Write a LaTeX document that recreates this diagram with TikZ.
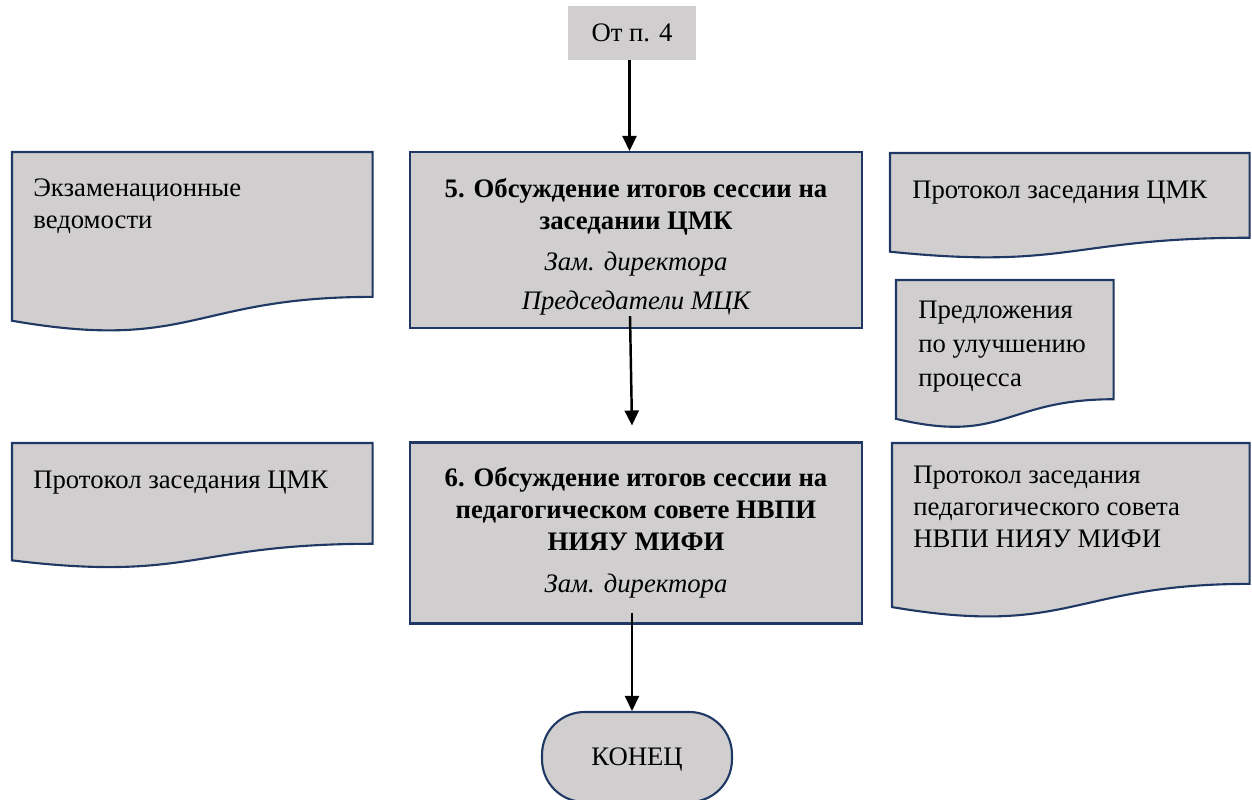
\documentclass[tikz,border=0pt]{standalone}
\usepackage{fontspec}
\setmainfont{Liberation Serif}
\usetikzlibrary{arrows.meta,positioning,calc,backgrounds}

\definecolor{boxfill}{HTML}{D0CECE}
\definecolor{boxline}{HTML}{1F3864}

\begin{document}
\begin{tikzpicture}[x=0.02cm, y=-0.02cm, font=\fontsize{15.2}{18.2}\selectfont,
  stepbox/.style={draw=boxline, fill=boxfill, line width=1.2pt, align=center, inner sep=0pt},
  doc/.style={anchor=north west, inner sep=0pt},
  doctxt/.style={anchor=north west, align=left, inner sep=0pt},
  flow/.style={line width=1.4pt, -{Triangle[length=0.3cm, width=0.28cm]}}]
\useasboundingbox (0,0) rectangle (1252,800);

% process steps
\node[fill=boxfill, minimum width=2.58cm, minimum height=1.08cm] (from4) at (632,33) {От п. 4};
\node[stepbox, minimum width=9.04cm, minimum height=3.52cm] (step5) at (636,240)
  {\rule{0pt}{19pt}{\bfseries 5. Обсуждение итогов сессии на}\\{\bfseries заседании ЦМК}\\[5pt]
   {\itshape Зам. директора}\\[4pt]{\itshape Председатели МЦК}};
\node[stepbox, minimum width=9.04cm, minimum height=3.62cm] (step6) at (636,533)
  {{\bfseries 6. Обсуждение итогов сессии на}\\{\bfseries педагогическом совете НВПИ}\\{\bfseries НИЯУ МИФИ}\\[6pt]
   {\itshape Зам. директора}};
\node[stepbox, rounded corners=0.85cm, minimum width=3.8cm, minimum height=1.8cm,
  text height=10pt, text depth=0pt] (finish) at (637,757) {КОНЕЦ};

% documents
\node[doc, minimum width=7.2cm, minimum height=3.6cm] (ved) at (12,152) {};
\node[doctxt] (vedT) at ([shift={(21,26)}]ved.north west) {Экзаменационные\\ведомости};
\node[doc, minimum width=7.2cm, minimum height=2.5cm] (protL) at (12,443) {};
\node[doctxt] (protLT) at ([shift={(21,28)}]protL.north west) {Протокол заседания ЦМК};
\node[doc, minimum width=7.18cm, minimum height=2.1cm] (protR) at (890,153) {};
\node[doctxt] (protRT) at ([shift={(22,28)}]protR.north west) {Протокол заседания ЦМК};
\node[doc, minimum width=4.34cm, minimum height=2.96cm] (pred) at (896,280) {};
\node[doctxt, font=\fontsize{15.2}{19.2}\selectfont] (predT) at ([shift={(22,21)}]pred.north west) {Предложения\\по улучшению\\процесса};
\node[doc, minimum width=7.14cm, minimum height=3.5cm] (protPS) at (892,443) {};
\node[doctxt] (protPST) at ([shift={(21,23)}]protPS.north west) {Протокол заседания\\педагогического совета\\НВПИ НИЯУ МИФИ};

\begin{scope}[on background layer]
\foreach \d in {ved,protL,protR,pred,protPS}
  \draw[draw=boxline, fill=boxfill, line width=1.2pt] (\d.north west) -- (\d.north east)
    -- ($(\d.north east)!0.802!(\d.south east)$)
    .. controls ($(\d.north)!0.802!(\d.south)$) and ($(\d.north)!1.1075!(\d.south)$)
    .. ($(\d.north west)!0.934!(\d.south west)$) -- cycle;
\end{scope}

% connectors
\draw[flow] ([xshift=-0.05cm]from4.south) -- ([xshift=-0.05cm]from4.south |- step5.north);
\draw[flow] ([xshift=-0.12cm, yshift=0.26cm]step5.south) -- ([xshift=-0.08cm, yshift=0.32cm]step6.north);
\draw[flow] ([xshift=-0.08cm, yshift=0.24cm]step6.south) -- ([xshift=-0.08cm]step6.south |- finish.north);
\end{tikzpicture}
\end{document}
